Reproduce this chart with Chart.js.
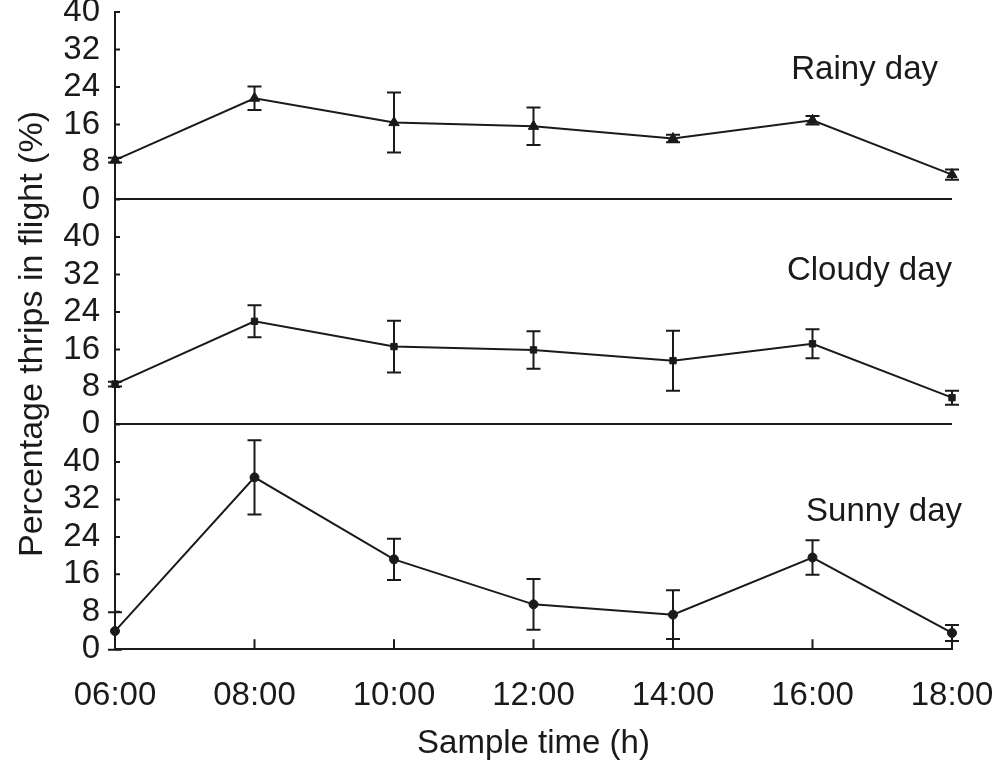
<!DOCTYPE html>
<html lang="en">
<head>
<meta charset="UTF-8">
<title>Thrips in flight</title>
<script src="https://cdn.jsdelivr.net/npm/chart.js"></script>
<style>
    body { margin: 0; background: #fff; }
    #wrap { width: 1000px; height: 767px; }
</style>
</head>
<body>
<div id="wrap"><canvas id="flightChart" width="1000" height="767"></canvas></div>

<script>
    // sample times and means (+/- error) per weather type
    const times = ['06:00', '08:00', '10:00', '12:00', '14:00', '16:00', '18:00'];
    const rainyMean = [8.4, 21.6, 16.4, 15.6, 13.0, 16.9, 5.3];
    const rainyErr = [0.5, 2.5, 6.4, 4.0, 0.8, 0.9, 1.1];
    const cloudyMean = [8.6, 22.0, 16.6, 15.9, 13.6, 17.2, 5.7];
    const cloudyErr = [0.5, 3.4, 5.5, 4.0, 6.4, 3.1, 1.5];
    const sunnyMean = [3.9, 36.7, 19.2, 9.6, 7.4, 19.6, 3.5];
    const sunnyErr = [4.0, 7.9, 4.4, 5.4, 5.2, 3.7, 1.7];
    const panelNames = ['Rainy day', 'Cloudy day', 'Sunny day'];

    const ink = '#1a1a1a';
    const family = "'Liberation Sans', Arial, sans-serif";

    function panelAxis(max) {
        return {
            type: 'linear',
            position: 'left',
            stack: 'days',
            stackWeight: max,
            min: 0,
            max: max,
            afterFit: s => {
                s.width = 115;
                s.paddingTop = 0;
                s.paddingBottom = 0;
            },
            afterBuildTicks: s => { s.ticks = s.ticks.filter(t => t.value <= 40); },
            border: { color: ink, width: 2 },
            grid: {
                drawTicks: false,
                lineWidth: 2,
                color: c => (c.tick && c.tick.value === 0) ? ink : 'rgba(0,0,0,0)'
            },
            ticks: {
                stepSize: 8,
                autoSkip: false,
                padding: 15,
                color: ink,
                font: { family: family, size: 33, lineHeight: 0.7 }
            }
        };
    }

    function series(data, err, axis, style, radius) {
        return {
            data: data,
            err: err,
            yAxisID: axis,
            borderColor: ink,
            borderWidth: 2,
            backgroundColor: ink,
            pointStyle: style,
            pointRadius: radius,
            pointBorderWidth: 1,
            tension: 0,
            clip: false
        };
    }

    // error bars, drawn through each panel's own y scale
    const errorBars = {
        id: 'errorBars',
        afterDatasetsDraw(chart) {
            const ctx = chart.ctx;
            ctx.save();
            ctx.strokeStyle = ink;
            ctx.lineWidth = 2;
            chart.data.datasets.forEach((ds, i) => {
                const meta = chart.getDatasetMeta(i);
                const ys = chart.scales[ds.yAxisID];
                meta.data.forEach((pt, j) => {
                    const top = ys.getPixelForValue(ds.data[j] + ds.err[j]);
                    const bot = ys.getPixelForValue(ds.data[j] - ds.err[j]);
                    ctx.beginPath();
                    ctx.moveTo(pt.x, top); ctx.lineTo(pt.x, bot);
                    ctx.moveTo(pt.x - 7, top); ctx.lineTo(pt.x + 7, top);
                    ctx.moveTo(pt.x - 7, bot); ctx.lineTo(pt.x + 7, bot);
                    ctx.stroke();
                });
            });
            ctx.restore();
        }
    };

    // short tick marks pointing into the plot
    const innerTicks = {
        id: 'innerTicks',
        afterDraw(chart) {
            const ctx = chart.ctx;
            ctx.save();
            ctx.strokeStyle = ink;
            ctx.lineWidth = 2;
            ctx.beginPath();
            ['yRainy', 'yCloudy', 'ySunny'].forEach(id => {
                const s = chart.scales[id];
                s.ticks.forEach(t => {
                    const py = s.getPixelForValue(t.value);
                    ctx.moveTo(s.right, py); ctx.lineTo(s.right + 5, py);
                });
            });
            const xs = chart.scales.x;
            xs.ticks.forEach((t, i) => {
                const px = xs.getPixelForTick(i);
                ctx.moveTo(px, xs.top); ctx.lineTo(px, xs.top - 10);
            });
            ctx.stroke();
            ctx.restore();
        }
    };

    // panel names and the shared y title
    const panelText = {
        id: 'panelText',
        afterDraw(chart) {
            const ctx = chart.ctx;
            const area = chart.chartArea;
            const spots = [['yRainy', 27.6, -14], ['yCloudy', 32.7, 0], ['ySunny', 29.3, 10]];
            ctx.save();
            ctx.fillStyle = ink;
            ctx.font = '33px ' + family;
            ctx.textAlign = 'right';
            ctx.textBaseline = 'middle';
            spots.forEach((s, i) => {
                ctx.fillText(panelNames[i], area.right + s[2], chart.scales[s[0]].getPixelForValue(s[1]));
            });
            ctx.font = '34px ' + family;
            ctx.textAlign = 'center';
            ctx.translate(33, 334);
            ctx.rotate(-Math.PI / 2);
            ctx.fillText('Percentage thrips in flight (%)', 0, 0);
            ctx.restore();
        }
    };

    new Chart(document.getElementById('flightChart'), {
        type: 'line',
        data: {
            labels: times,
            datasets: [
                series(rainyMean, rainyErr, 'yRainy', 'triangle', 6),
                series(cloudyMean, cloudyErr, 'yCloudy', 'rect', 4.5),
                series(sunnyMean, sunnyErr, 'ySunny', 'circle', 4.5)
            ]
        },
        options: {
            responsive: false,
            animation: false,
            layout: { padding: { top: 12, right: 48, bottom: 3, left: 0 } },
            plugins: { legend: { display: false }, tooltip: { enabled: false } },
            scales: {
                x: {
                    type: 'category',
                    offset: false,
                    afterFit: s => {
                        s.paddingLeft = 0;
                        s.paddingRight = 0;
                    },
                    border: { color: ink, width: 2 },
                    grid: { display: false, drawTicks: false },
                    ticks: {
                        padding: 39,
                        color: ink,
                        maxRotation: 0,
                        font: { family: family, size: 33, lineHeight: 0.45 }
                    },
                    title: {
                        display: true,
                        text: 'Sample time (h)',
                        color: ink,
                        padding: { top: 0, bottom: 18.5 },
                        font: { family: family, size: 33, lineHeight: 0.1 }
                    }
                },
                // stacked panels: the last one listed sits on top
                ySunny: panelAxis(48),
                yCloudy: panelAxis(48),
                yRainy: panelAxis(40)
            }
        },
        plugins: [errorBars, innerTicks, panelText]
    });
</script>
</body>
</html>
